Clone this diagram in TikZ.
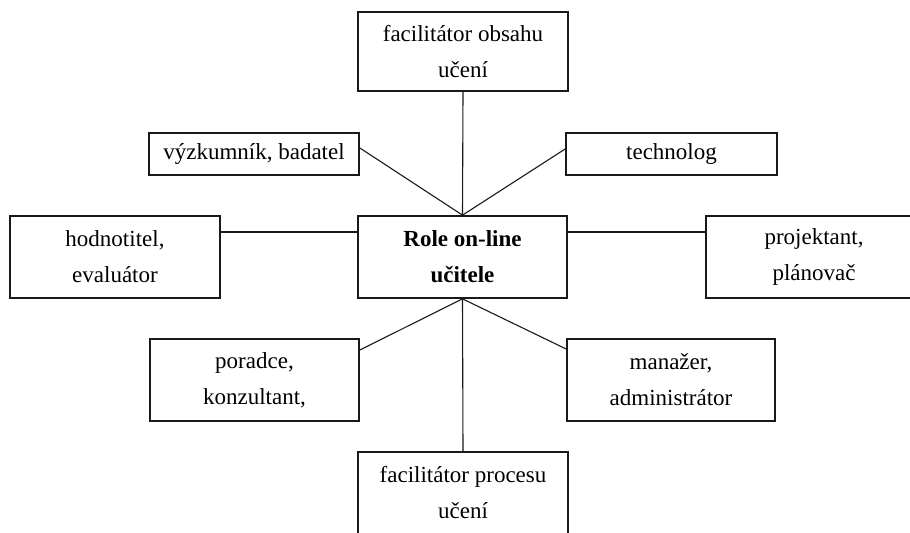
\documentclass[tikz,border=0pt]{standalone}
\usepackage{fontspec}
\setmainfont{Liberation Serif}
\usepackage{tikz}

\begin{document}
\begin{tikzpicture}[x=1bp,y=-1bp,
        font=\fontsize{23bp}{36bp}\selectfont,
        role/.style={rectangle,draw=black!90,line width=1.7bp,
                     align=center,inner sep=0pt},
        link/.style={draw=black!90,line width=1.1bp}]
  \useasboundingbox (0,0) rectangle (910,533);
  \begin{scope}[overlay]
  \clip (0,0) rectangle (910,533);
  \node[role,minimum width=210bp,minimum height=79bp] (obsah) at (463,51.5)
    {facilitátor obsahu\\učení};
  \node[role,minimum width=210bp,minimum height=42bp] (vyzkum) at (254,154)
    {výzkumník, badatel};
  \node[role,minimum width=211bp,minimum height=42bp] (techn) at (671.5,154)
    {technolog};
  \node[role,minimum width=210bp,minimum height=82bp] (hodnot) at (115,257)
    {hodnotitel,\\evaluátor};
  \node[role,minimum width=209bp,minimum height=82bp,font=\fontsize{23bp}{36bp}\selectfont\bfseries]
    (role) at (462.5,257) {Role on-line\\učitele};
  \node[role,minimum width=216bp,minimum height=82bp] (projekt) at (814,257)
    {projektant,\\plánovač};
  \node[role,minimum width=209bp,minimum height=82bp] (poradce) at (254.5,380)
    {poradce,\\konzultant,};
  \node[role,minimum width=208bp,minimum height=82bp] (manazer) at (671,380)
    {manažer,\\administrátor};
  \node[role,minimum width=210bp,minimum height=82bp] (proces) at (463,493)
    {facilitátor procesu\\učení};
  \draw[link] (obsah.south) -- (role.north);
  \draw[link] ([yshift=6bp]vyzkum.east) -- (role.north);
  \draw[link] ([yshift=5bp]techn.west) -- (role.north);
  \draw[link] ([yshift=25bp]hodnot.east) -- ([yshift=25bp]role.west);
  \draw[link] ([yshift=25bp]role.east) -- ([yshift=25bp]projekt.west);
  \draw[link] ([yshift=30bp]poradce.east) -- (role.south);
  \draw[link] ([yshift=31bp]manazer.west) -- (role.south);
  \draw[link] (role.south) -- (proces.north);
  \end{scope}
\end{tikzpicture}
\end{document}
